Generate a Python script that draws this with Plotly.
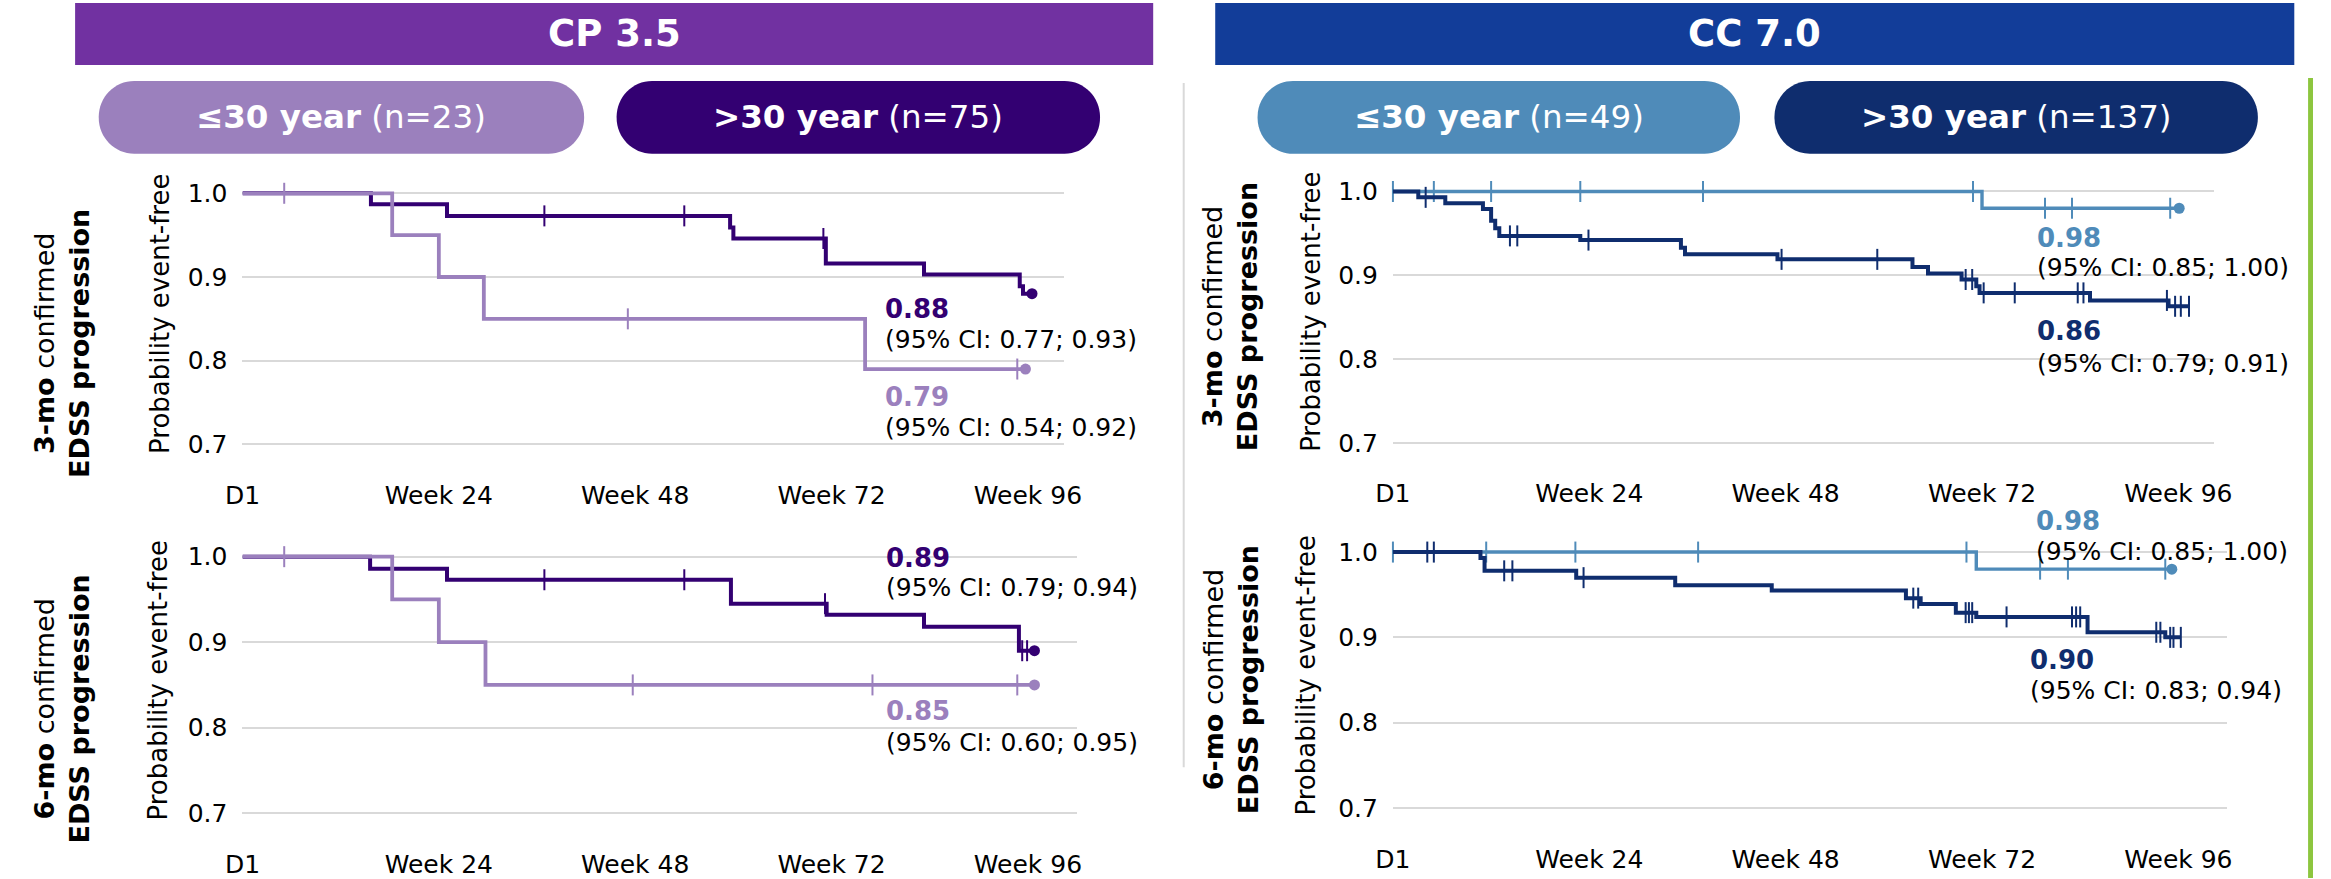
import plotly.graph_objects as go

W, H = 2331, 879
FONT = "DejaVu Sans"

# ---- palette ----
CP_HEAD, CC_HEAD = "#7131A1", "#123D99"
CP_YOUNG, CP_OLD = "#9B80BD", "#330072"
CC_YOUNG, CC_OLD = "#4F8BB9", "#0F2D6E"
GRID = "#D9D9D9"

# ---- axes ----
x_tickvals = [0, 24, 48, 72, 96]
x_ticktext = ["D1", "Week 24", "Week 48", "Week 72", "Week 96"]
y_tickvals = [0.7, 0.8, 0.9, 1.0]
y_ticktext = ["0.7", "0.8", "0.9", "1.0"]

# ---- cohorts / groups ----
cohort_names = ["CP 3.5", "CC 7.0"]
age_groups = ["≤30 year", ">30 year"]
cp_n = [23, 75]
cc_n = [49, 137]
endpoints = ["3-mo", "6-mo"]

# ---- Kaplan-Meier curves: step times (weeks), probability event-free,
#      censoring times, last follow-up and 95% CI at week 96 ----
cp3_young_t = [0, 18.3, 24.0, 29.5, 76.1]
cp3_young_s = [1.0, 0.95, 0.90, 0.85, 0.79]
cp3_young_cens = [5.1, 47.1, 94.7]
cp3_young_last = 95.7
cp3_young_ci = [0.54, 0.92]

cp3_old_t = [0, 15.7, 25.0, 59.6, 60.0, 71.3, 83.3, 95.0, 95.4]
cp3_old_s = [1.0, 0.987, 0.973, 0.959, 0.946, 0.916, 0.903, 0.889, 0.88]
cp3_old_cens = [36.9, 54.0, 71.0]
cp3_old_last = 96.5
cp3_old_ci = [0.77, 0.93]

cp6_young_t = [0, 18.3, 24.0, 29.7]
cp6_young_s = [1.0, 0.95, 0.90, 0.85]
cp6_young_cens = [5.1, 47.7, 77.0, 94.7]
cp6_young_last = 96.8
cp6_young_ci = [0.60, 0.95]

cp6_old_t = [0, 15.6, 25.0, 59.7, 71.4, 83.3, 94.9]
cp6_old_s = [1.0, 0.986, 0.973, 0.945, 0.932, 0.918, 0.89]
cp6_old_cens = [36.9, 54.0, 71.2, 95.3, 95.9]
cp6_old_last = 96.8
cp6_old_ci = [0.79, 0.94]

cc3_young_t = [0, 72.0]
cc3_young_s = [1.0, 0.98]
cc3_young_cens = [0.0, 5.0, 12.0, 22.9, 37.9, 70.9, 79.7, 83.0, 95.0]
cc3_young_last = 96.1
cc3_young_ci = [0.85, 1.00]

cc3_old_t = [0, 3.1, 6.4, 11.0, 12.0, 12.5, 13.0, 22.9, 35.2, 35.7, 47.0,
             63.5, 65.4, 69.5, 71.3, 71.7, 85.2, 94.8]
cc3_old_s = [1.0, 0.993, 0.986, 0.979, 0.965, 0.956, 0.947, 0.942, 0.933,
             0.925, 0.919, 0.910, 0.902, 0.895, 0.887, 0.879, 0.870, 0.863]
cc3_old_cens = [4.0, 14.3, 15.2, 23.9, 47.5, 59.2, 70.0, 70.8, 72.2, 76.0,
                83.7, 84.4, 94.6, 95.6, 96.3, 97.3]
cc3_old_last = 97.3
cc3_old_ci = [0.79, 0.91]

cc6_young_t = [0, 71.3]
cc6_young_s = [1.0, 0.98]
cc6_young_cens = [0.0, 11.4, 22.3, 37.3, 70.1, 79.1, 82.5, 94.4]
cc6_young_last = 95.2
cc6_young_ci = [0.85, 1.00]

cc6_old_t = [0, 10.7, 11.2, 22.4, 34.5, 46.3, 62.7, 64.5, 68.8, 71.3, 84.9, 94.4]
cc6_old_s = [1.0, 0.993, 0.978, 0.970, 0.961, 0.955, 0.946, 0.939, 0.929,
             0.924, 0.906, 0.90]
cc6_old_cens = [4.2, 5.0, 13.6, 14.6, 23.3, 63.6, 64.2, 70.0, 70.4, 70.8,
                75.0, 83.0, 83.5, 84.0, 93.3, 93.8, 95.0, 95.4, 96.3]
cc6_old_last = 96.3
cc6_old_ci = [0.83, 0.94]


# ---- pixel helpers ----
def PX(x):
    return x / W


def PY(y):
    return 1 - y / H


KX = 8.31            # pixels per week
YMIN, YMAX = 0.66, 1.02

# panel geometry: left edge px, px of y=1.0, px per unit of y, x range max
geo = [
    dict(x0=228.0, y1=193.5, ky=838.0, xmax=100.4),    # CP, 3-mo
    dict(x0=228.0, y1=557.3, ky=856.0, xmax=102.0),    # CP, 6-mo
    dict(x0=1396.5, y1=191.7, ky=839.0, xmax=100.4),   # CC, 3-mo
    dict(x0=1396.5, y1=552.7, ky=854.0, xmax=102.0),   # CC, 6-mo
]


def to_paper(panel, x, y):
    g = geo[panel - 1]
    return PX(g["x0"] + x * KX), PY(g["y1"] + (1 - y) * g["ky"])


fig = go.Figure()
layout_axes = {}
for i, g in enumerate(geo, start=1):
    top = g["y1"] - (YMAX - 1) * g["ky"]
    bot = g["y1"] + (1 - YMIN) * g["ky"]
    sfx = "" if i == 1 else str(i)
    layout_axes["xaxis" + sfx] = dict(
        domain=[PX(g["x0"]), PX(g["x0"] + g["xmax"] * KX)],
        range=[0, g["xmax"]], anchor="y" + sfx,
        tickvals=x_tickvals, ticktext=x_ticktext,
        showgrid=False, zeroline=False, showline=False, ticks="",
        tickfont=dict(family=FONT, size=25, color="#000"),
        fixedrange=True,
    )
    layout_axes["yaxis" + sfx] = dict(
        domain=[PY(bot), PY(top)],
        range=[YMIN, YMAX], anchor="x" + sfx,
        tickvals=y_tickvals, ticktext=y_ticktext,
        showgrid=True, gridcolor=GRID, gridwidth=2,
        zeroline=False, showline=False, ticks="",
        ticklabelstandoff=14,
        tickfont=dict(family=FONT, size=25, color="#000"),
        fixedrange=True,
    )


def step_at(t, s, x):
    v = s[0]
    for ti, si in zip(t, s):
        if ti <= x:
            v = si
    return v


def add_curve(panel, t, s, cens, last, color, width, dot):
    ax = "" if panel == 1 else str(panel)
    fig.add_trace(go.Scatter(
        x=list(t) + [last], y=list(s) + [s[-1]], mode="lines",
        line=dict(color=color, width=width, shape="hv"),
        xaxis="x" + ax, yaxis="y" + ax, hoverinfo="skip", showlegend=False))
    fig.add_trace(go.Scatter(
        x=cens, y=[step_at(t, s, c) for c in cens], mode="markers",
        marker=dict(symbol="line-ns", size=15, color=color,
                    line=dict(width=2, color=color)),
        cliponaxis=False,
        xaxis="x" + ax, yaxis="y" + ax, hoverinfo="skip", showlegend=False))
    if dot:
        fig.add_trace(go.Scatter(
            x=[last], y=[s[-1]], mode="markers",
            marker=dict(symbol="circle", size=11, color=color),
            cliponaxis=False,
            xaxis="x" + ax, yaxis="y" + ax, hoverinfo="skip", showlegend=False))


# CP 3.5 panels: older group underneath
add_curve(1, cp3_old_t, cp3_old_s, cp3_old_cens, cp3_old_last, CP_OLD, 4.0, True)
add_curve(1, cp3_young_t, cp3_young_s, cp3_young_cens, cp3_young_last, CP_YOUNG, 3.8, True)
add_curve(2, cp6_old_t, cp6_old_s, cp6_old_cens, cp6_old_last, CP_OLD, 4.0, True)
add_curve(2, cp6_young_t, cp6_young_s, cp6_young_cens, cp6_young_last, CP_YOUNG, 3.8, True)
# CC 7.0 panels: older group on top
add_curve(3, cc3_young_t, cc3_young_s, cc3_young_cens, cc3_young_last, CC_YOUNG, 3.4, True)
add_curve(3, cc3_old_t, cc3_old_s, cc3_old_cens, cc3_old_last, CC_OLD, 4.0, False)
add_curve(4, cc6_young_t, cc6_young_s, cc6_young_cens, cc6_young_last, CC_YOUNG, 3.4, True)
add_curve(4, cc6_old_t, cc6_old_s, cc6_old_cens, cc6_old_last, CC_OLD, 4.0, False)

annotations = []


def estimate_label(panel, x, y_val, y_ci, surv, ci, color):
    px, py_val = to_paper(panel, x, y_val)
    _, py_ci = to_paper(panel, x, y_ci)
    annotations.append(dict(
        x=px, y=py_val, xref="paper", yref="paper", xanchor="left", yanchor="middle",
        text="<b>%.2f</b>" % surv, showarrow=False,
        font=dict(family=FONT, size=26, color=color)))
    annotations.append(dict(
        x=px, y=py_ci, xref="paper", yref="paper", xanchor="left", yanchor="middle",
        text="(95%% CI: %.2f; %.2f)" % (ci[0], ci[1]), showarrow=False,
        font=dict(family=FONT, size=25, color="#000")))


estimate_label(1, 78.3, 0.862, 0.825, cp3_old_s[-1], cp3_old_ci, CP_OLD)
estimate_label(1, 78.3, 0.757, 0.720, cp3_young_s[-1], cp3_young_ci, CP_YOUNG)
estimate_label(2, 78.4, 0.999, 0.964, cp6_old_s[-1], cp6_old_ci, CP_OLD)
estimate_label(2, 78.4, 0.819, 0.783, cp6_young_s[-1], cp6_young_ci, CP_YOUNG)
estimate_label(3, 78.5, 0.944, 0.909, cc3_young_s[-1], cc3_young_ci, CC_YOUNG)
estimate_label(3, 78.5, 0.833, 0.795, cc3_old_s[-1], cc3_old_ci, CC_OLD)
estimate_label(4, 78.3, 1.036, 1.001, cc6_young_s[-1], cc6_young_ci, CC_YOUNG)
estimate_label(4, 77.6, 0.873, 0.838, cc6_old_s[-1], cc6_old_ci, CC_OLD)

# y-axis titles and row labels
ytitle_pos = [(143.5, 314), (142.5, 681), (1313, 312.5), (1308, 676.5)]
row_pos = [(44, 344), (45, 710), (1231, 316.5), (1232, 680)]
for k in range(4):
    annotations.append(dict(
        x=PX(ytitle_pos[k][0]), y=PY(ytitle_pos[k][1]), xref="paper", yref="paper",
        text="Probability event-free", textangle=-90, showarrow=False,
        xanchor="center", yanchor="middle",
        font=dict(family=FONT, size=26, color="#000")))
    annotations.append(dict(
        x=PX(row_pos[k][0]), y=PY(row_pos[k][1]), xref="paper", yref="paper",
        text="<b>%s</b> confirmed<br><b>EDSS progression</b>" % endpoints[k % 2],
        textangle=-90, showarrow=False, align="center",
        xanchor="center", yanchor="middle",
        font=dict(family=FONT, size=27, color="#000")))

shapes = []

# cohort header bars
head_boxes = [(58, 1153), (1216, 2312)]
head_cols = [CP_HEAD, CC_HEAD]
for (a, b), col, name in zip(head_boxes, head_cols, cohort_names):
    shapes.append(dict(type="rect", xref="paper", yref="paper",
                       x0=PX(a), x1=PX(b), y0=PY(65), y1=PY(3),
                       fillcolor=col, line=dict(width=0), layer="below"))
    annotations.append(dict(x=PX((a + b) / 2), y=PY(34), xref="paper", yref="paper",
                            text="<b>%s</b>" % name, showarrow=False,
                            xanchor="center", yanchor="middle",
                            font=dict(family=FONT, size=37, color="white")))


def pill_path(x0, x1, y0, y1, r):
    k = 0.5523 * r

    def p(x, y):
        return "%.6f,%.6f" % (PX(x), PY(y))
    return ("M" + p(x0 + r, y0) + " L" + p(x1 - r, y0) +
            " C" + p(x1 - r + k, y0) + " " + p(x1, y0 + r - k) + " " + p(x1, y0 + r) +
            " L" + p(x1, y1 - r) +
            " C" + p(x1, y1 - r + k) + " " + p(x1 - r + k, y1) + " " + p(x1 - r, y1) +
            " L" + p(x0 + r, y1) +
            " C" + p(x0 + r - k, y1) + " " + p(x0, y1 - r + k) + " " + p(x0, y1 - r) +
            " L" + p(x0, y0 + r) +
            " C" + p(x0, y0 + r - k) + " " + p(x0 + r - k, y0) + " " + p(x0 + r, y0) + " Z")


# age-group pills
pill_boxes = [(82, 575), (608, 1099), (1259, 1749), (1784, 2275)]
pill_cols = [CP_YOUNG, CP_OLD, CC_YOUNG, CC_OLD]
pill_n = cp_n + cc_n
for j, ((a, b), col) in enumerate(zip(pill_boxes, pill_cols)):
    shapes.append(dict(type="path", xref="paper", yref="paper",
                       path=pill_path(a, b, 81, 154, 36),
                       fillcolor=col, line=dict(width=0), layer="below"))
    annotations.append(dict(x=PX((a + b) / 2), y=PY(117.5), xref="paper", yref="paper",
                            text="<b>%s</b> (n=%d)" % (age_groups[j % 2], pill_n[j]),
                            showarrow=False, xanchor="center", yanchor="middle",
                            font=dict(family=FONT, size=32.5, color="white")))

# divider between cohorts and right-hand edge stripe
shapes.append(dict(type="line", xref="paper", yref="paper",
                   x0=PX(1184), x1=PX(1184), y0=PY(83), y1=PY(768),
                   line=dict(color=GRID, width=2)))
shapes.append(dict(type="rect", xref="paper", yref="paper",
                   x0=PX(2326), x1=PX(2331), y0=PY(879), y1=PY(78),
                   fillcolor="#8DC63F", line=dict(width=0)))

fig.update_layout(
    width=W, height=H, margin=dict(l=0, r=0, t=0, b=0),
    paper_bgcolor="white", plot_bgcolor="white",
    showlegend=False, shapes=shapes, annotations=annotations,
    font=dict(family=FONT, color="#000"),
    **layout_axes,
)

fig.write_html("out.html", config={"displayModeBar": False})
